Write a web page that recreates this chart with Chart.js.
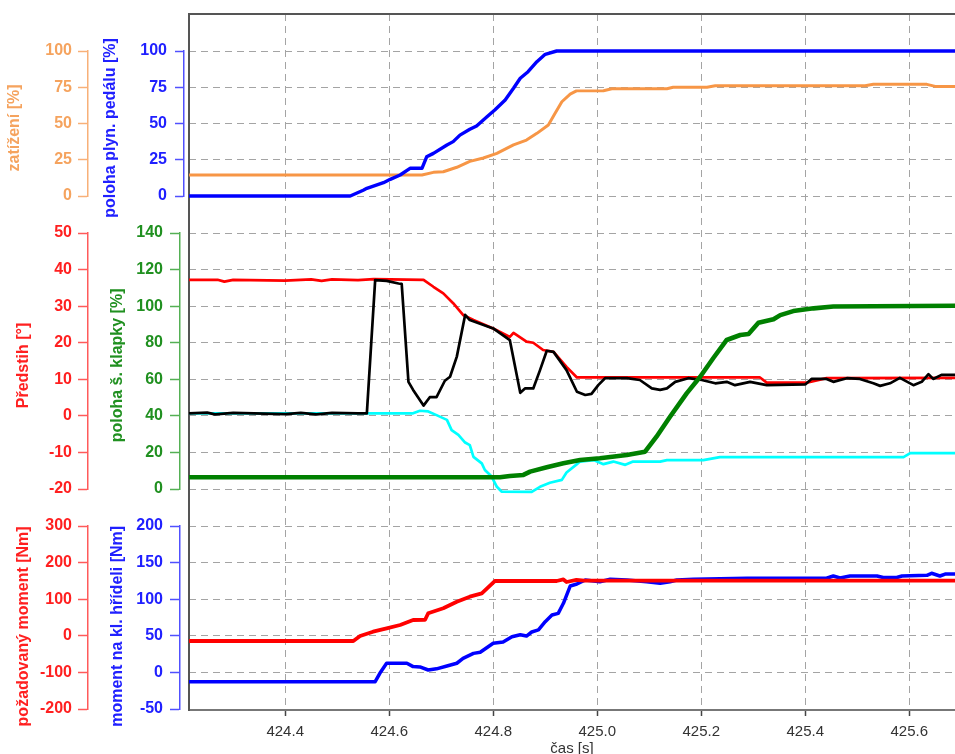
<!DOCTYPE html>
<html>
<head>
<meta charset="utf-8">
<script src="https://cdn.jsdelivr.net/npm/chart.js@4.4.1/dist/chart.umd.min.js"></script>
<style>
  html, body { margin: 0; padding: 0; background: #fff; overflow: hidden; }
  #wrap { position: relative; width: 955px; height: 754px; }
  #wrap canvas { position: absolute; left: 0; top: 0; pointer-events: none; }
</style>
</head>
<body>
<div id="wrap">
  <canvas id="base" width="955" height="754"></canvas>
  <canvas id="p1" width="955" height="754"></canvas>
  <canvas id="p2" width="955" height="754"></canvas>
  <canvas id="p3" width="955" height="754"></canvas>
</div>
<script>
// time axis
const X_MIN = 424.215;
const X_MAX = 425.688;
const xTicks = [424.4, 424.6, 424.8, 425.0, 425.2, 425.4, 425.6];

// panel 1: zatížení (orange) + poloha plyn. pedálu (blue)
const loadTicks = [0, 25, 50, 75, 100];
const pedalTicks = [0, 25, 50, 75, 100];
const loadT = [424.215, 424.663, 424.685, 424.704, 424.730, 424.755, 424.781, 424.807, 424.839, 424.864, 424.884, 424.906, 424.919, 424.932, 424.948, 424.960, 425.012, 425.028, 425.134, 425.146, 425.211, 425.227, 425.515, 425.531, 425.634, 425.650, 425.688];
const loadPct = [14.5, 14.5, 16.3, 16.7, 19.8, 23.9, 26.2, 29.4, 35.2, 38.6, 43.2, 49, 57, 65, 70.3, 72.5, 72.6, 74, 74, 75, 75, 76, 76, 77, 77, 75.6, 75.6];
const pedalT = [424.215, 424.525, 424.550, 424.557, 424.589, 424.602, 424.621, 424.640, 424.663, 424.672, 424.685, 424.711, 424.723, 424.736, 424.755, 424.768, 424.788, 424.803, 424.823, 424.839, 424.852, 424.867, 424.884, 424.900, 424.922, 425.688];
const pedalPct = [0, 0, 4, 5.3, 9.2, 11.5, 14.5, 19.1, 19.1, 27, 29.4, 35.2, 37.5, 42, 46, 48.3, 54.7, 59.3, 66.2, 74.3, 81.2, 85.7, 92.6, 97.7, 100, 100];

// panel 2: předstih (red, black, cyan) + poloha š. klapky (green)
const advanceTicks = [-20, -10, 0, 10, 20, 30, 40, 50];
const throttleTicks = [0, 20, 40, 60, 80, 100, 120, 140];
const advanceT = [424.215, 424.270, 424.283, 424.300, 424.400, 424.450, 424.470, 424.490, 424.540, 424.570, 424.666, 424.685, 424.704, 424.723, 424.742, 424.762, 424.800, 424.832, 424.839, 424.864, 424.877, 424.896, 424.916, 424.941, 424.961, 425.313, 425.326, 425.403, 425.441, 425.688];
const advanceDeg = [37.2, 37.2, 36.7, 37.2, 37.0, 37.3, 36.9, 37.3, 37.1, 37.4, 37.2, 35.3, 33.5, 30.8, 27.6, 26.2, 23.9, 21.6, 22.7, 20.3, 20, 18, 17.5, 13.4, 10.5, 10.5, 9.1, 9.1, 10.3, 10.4];
const blackT = [424.215, 424.250, 424.265, 424.300, 424.400, 424.430, 424.460, 424.490, 424.540, 424.557, 424.573, 424.595, 424.618, 424.624, 424.637, 424.646, 424.666, 424.678, 424.691, 424.707, 424.717, 424.730, 424.746, 424.755, 424.800, 424.832, 424.852, 424.861, 424.877, 424.890, 424.903, 424.916, 424.941, 424.961, 424.977, 424.989, 425.002, 425.015, 425.057, 425.082, 425.105, 425.121, 425.134, 425.150, 425.175, 425.201, 425.227, 425.249, 425.265, 425.294, 425.326, 425.400, 425.412, 425.441, 425.454, 425.480, 425.505, 425.531, 425.544, 425.563, 425.582, 425.608, 425.624, 425.637, 425.646, 425.662, 425.688];
const blackDeg = [0.7, 0.9, 0.4, 0.8, 0.5, 0.8, 0.4, 0.8, 0.7, 0.7, 37.1, 36.9, 36.2, 36.1, 9.3, 7.1, 2.8, 5.1, 5.1, 9.6, 10.7, 16.2, 27.6, 26.2, 23.9, 20.7, 6.3, 7.5, 7.5, 12.5, 17.8, 17.5, 12.5, 6.6, 5.7, 6, 8.4, 10.3, 10.3, 9.8, 7.5, 7.1, 7.5, 9.3, 10.3, 9.8, 8.9, 9.3, 8.4, 9.3, 8.4, 8.6, 10.1, 10.1, 9.3, 10.3, 10.1, 8.9, 8.2, 8.9, 10.4, 8.4, 9.3, 11.4, 10.1, 11.2, 11.2];
const cyanT = [424.215, 424.646, 424.659, 424.675, 424.691, 424.711, 424.720, 424.733, 424.746, 424.755, 424.762, 424.778, 424.784, 424.797, 424.807, 424.816, 424.874, 424.890, 424.909, 424.932, 424.941, 424.961, 424.967, 424.993, 425.012, 425.031, 425.054, 425.069, 425.121, 425.134, 425.204, 425.236, 425.589, 425.602, 425.688];
const cyanDeg = [0.7, 0.7, 1.4, 1.2, 0.2, -1.1, -3.9, -5.2, -7.3, -8, -11.2, -13, -14.8, -16.6, -19.4, -20.7, -20.8, -19.4, -18.3, -17.5, -15.5, -13.2, -12.5, -12.1, -13.2, -12.5, -13.4, -12.5, -12.5, -12.1, -12.1, -11.3, -11.3, -10.2, -10.2];
const throttleT = [424.215, 424.813, 424.832, 424.858, 424.871, 424.903, 424.935, 424.967, 425.005, 425.057, 425.092, 425.114, 425.140, 425.172, 425.198, 425.223, 425.249, 425.275, 425.291, 425.310, 425.339, 425.352, 425.377, 425.416, 425.454, 425.688];
const throttlePct = [6.4, 6.4, 7.1, 7.7, 9.5, 11.9, 14.1, 15.9, 16.8, 18.6, 20.4, 28.6, 39.5, 52.3, 61.4, 71.5, 81.5, 84.2, 84.8, 90.9, 92.8, 95.1, 97.3, 98.8, 99.8, 100.2];

// panel 3: požadovaný moment (red) + moment na kl. hřídeli (blue)
const reqTorqueTicks = [-200, -100, 0, 100, 200, 300];
const shaftTorqueTicks = [-50, 0, 50, 100, 150, 200];
const reqTorqueT = [424.215, 424.531, 424.544, 424.569, 424.595, 424.621, 424.646, 424.669, 424.675, 424.704, 424.730, 424.755, 424.778, 424.803, 424.922, 424.935, 424.941, 424.960, 424.975, 425.688];
const reqTorqueNm = [-14.2, -14.2, -0.5, 11.2, 20.4, 29.5, 43.2, 43.8, 61.5, 75.1, 93.2, 106.9, 116, 149.7, 149.7, 154, 147, 153, 150.6, 150.6];
const shaftTorqueT = [424.215, 424.573, 424.582, 424.595, 424.634, 424.646, 424.659, 424.675, 424.691, 424.711, 424.730, 424.742, 424.762, 424.775, 424.800, 424.819, 424.836, 424.852, 424.864, 424.874, 424.887, 424.900, 424.913, 424.925, 424.935, 424.948, 424.961, 424.977, 425.005, 425.025, 425.057, 425.095, 425.121, 425.140, 425.153, 425.185, 425.288, 425.441, 425.454, 425.467, 425.486, 425.538, 425.550, 425.576, 425.586, 425.634, 425.643, 425.659, 425.669, 425.688];
const shaftTorqueNm = [-12.7, -12.7, -1.2, 12.5, 12.5, 7.9, 7.5, 3.3, 4.9, 8.8, 12.5, 19.2, 26, 27.5, 39.8, 41.5, 48.8, 51.5, 49.7, 55.2, 58, 69.3, 78.4, 80.7, 94.4, 118, 120.7, 126.2, 123.9, 127.2, 126.2, 123.9, 121.7, 123.9, 126.2, 127.2, 128.6, 128.6, 131.7, 128.9, 131.7, 131.7, 129.6, 129.6, 131.7, 132.6, 135.4, 131.7, 134.4, 134.4];

Chart.defaults.font.family = "'Liberation Sans', Arial, Helvetica, sans-serif";

const W = 955, H = 754;
const PLOT = { left: 189, top: 14, right: 955, bottom: 710 };
const pxPerSec = (PLOT.right - PLOT.left) / (X_MAX - X_MIN);
const GRID = '#a4a4a4';
const DASH = [7, 5];

const ORANGE = { line: '#F79646', text: '#F5A35E', axis: '#F8B078' };
const BLUE = { line: '#0000FF', text: '#2020FF', axis: '#5050FF' };
const RED = { line: '#FF0000', text: '#FF2020', axis: '#FF5A5A' };
const GREEN = { line: '#008000', text: '#209020', axis: '#55B055' };

const pts = (t, v) => t.map((x, i) => ({ x: x, y: v[i] }));

// trailing spaces nudge the rotated axis titles down a little
const panels = [
  {
    id: 'p1', top: 51, bottom: 196, bracket: 184,
    outer: { ticks: loadTicks, title: 'zatížení [%]  ', c: ORANGE, tickLen: 10, labelPad: 6, titlePad: 5 },
    inner: { ticks: pedalTicks, title: 'poloha plyn. pedálu [%]  ', c: BLUE, tickLen: 9, labelPad: 8, titlePad: 13 },
    series: [
      { t: pedalT, v: pedalPct, axis: 'yInner', color: BLUE.line, width: 3.4, order: 0 },
      { t: loadT, v: loadPct, axis: 'yOuter', color: ORANGE.line, width: 3, order: 1 }
    ]
  },
  {
    id: 'p2', top: 233, bottom: 489, bracket: 180,
    outer: { ticks: advanceTicks, title: 'Předstih [°]  ', c: RED, tickLen: 10, labelPad: 6, titlePad: 14 },
    inner: { ticks: throttleTicks, title: 'poloha š. klapky [%]  ', c: GREEN, tickLen: 10, labelPad: 7, titlePad: 20 },
    series: [
      { t: throttleT, v: throttlePct, axis: 'yInner', color: GREEN.line, width: 4.6, order: 0 },
      { t: blackT, v: blackDeg, axis: 'yOuter', color: '#000000', width: 2.7, order: 1 },
      { t: cyanT, v: cyanDeg, axis: 'yOuter', color: '#00FFFF', width: 2.7, order: 2 },
      { t: advanceT, v: advanceDeg, axis: 'yOuter', color: RED.line, width: 2.7, order: 3 }
    ]
  },
  {
    id: 'p3', top: 526, bottom: 709, bracket: 180,
    outer: { ticks: reqTorqueTicks, title: 'požadovaný moment [Nm]    ', c: RED, tickLen: 10, labelPad: 6, titlePad: 14 },
    inner: { ticks: shaftTorqueTicks, title: 'moment na kl. hřídeli [Nm]    ', c: BLUE, tickLen: 10, labelPad: 7, titlePad: 20 },
    series: [
      { t: reqTorqueT, v: reqTorqueNm, axis: 'yOuter', color: RED.line, width: 3.8, order: 0 },
      { t: shaftTorqueT, v: shaftTorqueNm, axis: 'yInner', color: BLUE.line, width: 3.5, order: 1 }
    ]
  }
];

function sideAxis(a, weight, width) {
  return {
    type: 'linear', position: 'left', weight: weight,
    min: a.ticks[0], max: a.ticks[a.ticks.length - 1],
    afterBuildTicks: s => { s.ticks = a.ticks.map(v => ({ value: v })); },
    afterFit: s => { s.width = width; },
    grid: { drawOnChartArea: false, tickLength: a.tickLen, tickColor: a.c.axis, tickWidth: 1.5 },
    border: { color: a.c.axis, width: 1.5 },
    ticks: { color: a.c.text, padding: a.labelPad, autoSkip: false, font: { size: 16, weight: 'bold' } },
    title: {
      display: true, text: a.title, color: a.c.text,
      padding: { top: a.titlePad, bottom: 0 },
      font: { size: 16, weight: 'bold' }
    }
  };
}

// horizontal grid of one panel, laid over the whole plot height of the base chart
function gridAxis(p) {
  const tk = p.outer.ticks;
  const lo = tk[0], hi = tk[tk.length - 1];
  const upp = (hi - lo) / (p.bottom - p.top);
  return {
    type: 'linear', position: 'left',
    min: lo - (PLOT.bottom - p.bottom) * upp,
    max: hi + (p.top - PLOT.top) * upp,
    afterBuildTicks: s => { s.ticks = tk.map(v => ({ value: v })); },
    afterFit: s => { s.width = 0; },
    ticks: { display: false },
    grid: { color: GRID, lineWidth: 1, drawTicks: false },
    border: { display: false, dash: DASH }
  };
}

new Chart(document.getElementById('base'), {
  type: 'line',
  data: { datasets: [] },
  options: {
    responsive: false, animation: false, events: [],
    layout: { autoPadding: false, padding: { left: PLOT.left, right: W - PLOT.right, top: PLOT.top, bottom: 0 } },
    plugins: { legend: { display: false }, tooltip: { enabled: false } },
    scales: {
      x: {
        type: 'linear', position: 'bottom', min: X_MIN, max: X_MAX,
        afterBuildTicks: s => { s.ticks = xTicks.map(v => ({ value: v })); },
        afterFit: s => { s.height = H - PLOT.bottom; },
        grid: { color: GRID, lineWidth: 1, tickLength: 6, tickColor: '#444', tickWidth: 1.5 },
        border: { color: '#777', width: 2, dash: DASH },
        ticks: { color: '#333', padding: 7, autoSkip: false, maxRotation: 0, font: { size: 15 }, callback: v => v.toFixed(1) },
        title: { display: true, text: 'čas [s]', color: '#333', font: { size: 15 }, padding: { top: 0, bottom: -4 } }
      },
      xTop: {
        type: 'linear', position: 'top', min: 0, max: 1,
        afterFit: s => { s.height = 0; },
        ticks: { display: false },
        grid: { display: false },
        border: { color: '#555', width: 2 }
      },
      yFrame: {
        type: 'linear', position: 'left', min: 0, max: 1,
        afterFit: s => { s.width = 0; },
        ticks: { display: false },
        grid: { display: false },
        border: { color: '#555', width: 2 }
      },
      yGrid1: gridAxis(panels[0]),
      yGrid2: gridAxis(panels[1]),
      yGrid3: gridAxis(panels[2])
    }
  }
});

panels.forEach(p => {
  const xMin = X_MIN - (PLOT.left - p.bracket) / pxPerSec;
  new Chart(document.getElementById(p.id), {
    type: 'line',
    data: {
      datasets: p.series.map(s => ({
        data: pts(s.t, s.v),
        yAxisID: s.axis,
        borderColor: s.color,
        borderWidth: s.width,
        order: s.order,
        pointRadius: 0,
        tension: 0,
        clip: false,
        borderJoinStyle: 'round'
      }))
    },
    options: {
      responsive: false, animation: false, events: [],
      layout: { autoPadding: false, padding: { left: 0, right: W - PLOT.right, top: p.top, bottom: H - p.bottom } },
      plugins: { legend: { display: false }, tooltip: { enabled: false } },
      scales: {
        x: { type: 'linear', display: false, min: xMin, max: X_MAX },
        yOuter: sideAxis(p.outer, 1, 88),
        yInner: sideAxis(p.inner, 0, p.bracket - 88)
      }
    }
  });
});
</script>
</body>
</html>
